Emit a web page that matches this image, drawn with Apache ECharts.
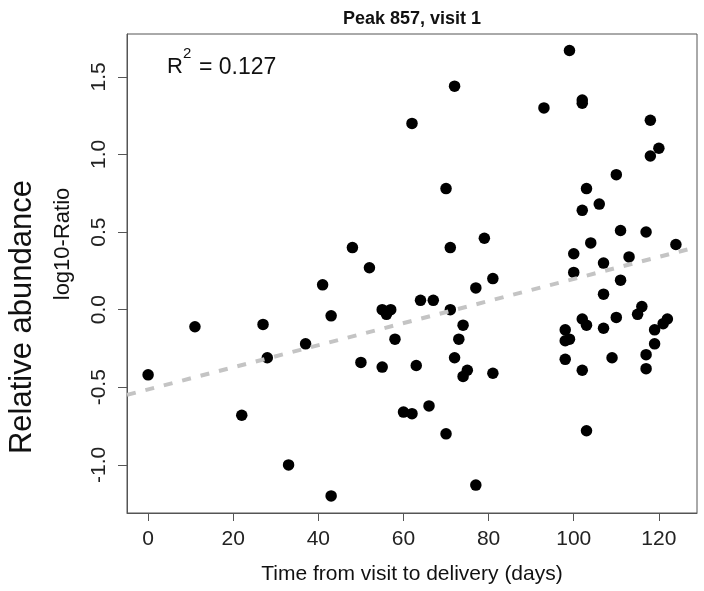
<!DOCTYPE html>
<html><head><meta charset="utf-8">
<script src="https://cdn.jsdelivr.net/npm/echarts@6/dist/echarts.min.js"></script>
<style>html,body{margin:0;padding:0;background:#fff}#c{width:704px;height:591px}</style>
</head><body><div id="c"></div>
<script>
// Days from visit to delivery
const days = [0, 11, 22, 27, 28, 33, 37, 41, 43, 43,
  48, 50, 52, 55, 56, 57, 55, 58, 60, 62,
  62, 63, 64, 66, 67, 70, 70, 71, 71, 72,
  72, 73, 74, 74, 75, 77, 77, 79, 81, 81,
  93, 98, 98, 98, 99, 99, 100, 100, 102, 102,
  102, 102, 102, 103, 103, 103, 104, 106, 107, 107,
  107, 109, 110, 110, 111, 111, 113, 115, 116, 117,
  117, 117, 118, 118, 119, 119, 120, 121, 122, 124];
// log10-Ratio values
const log10Ratio = [-0.42, -0.11, -0.68, -0.095, -0.31, -1.0, -0.22, 0.16, -0.04, -1.2,
  0.40, -0.34, 0.27, 0.0, -0.03, 0.0, -0.37, -0.19, -0.66, -0.67,
  1.20, -0.36, 0.06, -0.62, 0.06, 0.78, -0.80, 0.40, 0.0, 1.44,
  -0.31, -0.19, -0.10, -0.43, -0.39, 0.14, -1.13, 0.46, 0.20, -0.41,
  1.30, -0.13, -0.20, -0.32, 1.67, -0.19, 0.36, 0.24, 1.35, 1.33,
  0.64, -0.06, -0.39, 0.78, -0.10, -0.78, 0.43, 0.68, 0.30, 0.10,
  -0.12, -0.31, 0.87, -0.05, 0.51, 0.19, 0.34, -0.03, 0.02, 0.50,
  -0.29, -0.38, 1.22, 0.99, -0.13, -0.22, 1.04, -0.09, -0.06, 0.42];
// Fitted trend line end points (as drawn)
const trendDays = [-4.96, 128.96];
const trendValues = [-0.549, 0.404];
const xTicks = [0, 20, 40, 60, 80, 100, 120];
const yTicks = [-1.0, -0.5, 0.0, 0.5, 1.0, 1.5];
const chartTitle = 'Peak 857, visit 1';
const rSquared = '0.127';
const xTitle = 'Time from visit to delivery (days)';
const yTitle = 'log10-Ratio';
const outerYTitle = 'Relative abundance';

const FONT = 'Liberation Sans, Arial, Helvetica, sans-serif';
const points = days.map((d, i) => [d, log10Ratio[i]]);
const trend = trendDays.map((d, i) => [d, trendValues[i]]);

const chart = echarts.init(document.getElementById('c'), null, {renderer: 'canvas'});
chart.setOption({
  backgroundColor: '#ffffff',
  animation: false,
  title: {
    text: chartTitle, left: 407, top: 5, textAlign: 'center',
    textStyle: {fontFamily: FONT, fontSize: 18, fontWeight: 'bold', color: '#111'}
  },
  grid: {left: 127, right: 7, top: 34, bottom: 78, show: true,
    borderColor: '#555', borderWidth: 1, backgroundColor: 'transparent'},
  xAxis: {
    type: 'value', min: -4.96, max: 128.96,
    name: xTitle, nameLocation: 'middle', nameGap: 51,
    nameTextStyle: {fontFamily: FONT, fontSize: 21, color: '#111'},
    axisLine: {show: true, onZero: false, lineStyle: {color: '#555', width: 1}},
    splitLine: {show: false},
    axisTick: {show: true, length: 8, lineStyle: {color: '#555'}, customValues: xTicks},
    axisLabel: {fontFamily: FONT, fontSize: 21, color: '#222', margin: 16, customValues: xTicks,
      formatter: v => String(v)}
  },
  yAxis: {
    type: 'value', min: -1.31, max: 1.776,
    axisLine: {show: true, onZero: false, lineStyle: {color: '#555', width: 1}},
    splitLine: {show: false},
    axisTick: {show: true, length: 9, lineStyle: {color: '#555'}, customValues: yTicks},
    axisLabel: {fontFamily: FONT, fontSize: 21, color: '#222', margin: 17, rotate: 90,
      customValues: yTicks, formatter: v => Number(v).toFixed(1)}
  },
  graphic: [
    {type: 'text', left: 167, top: 56, z: 10,
      style: {text: 'R', fontFamily: FONT, fontSize: 22, fill: '#111'}},
    {type: 'text', left: 183, top: 46, z: 10,
      style: {text: '2', fontFamily: FONT, fontSize: 15, fill: '#111'}},
    {type: 'text', left: 199, top: 56, z: 10,
      style: {text: '= ' + rSquared, fontFamily: FONT, fontSize: 23, fill: '#111'}},
    {type: 'text', x: 63, y: 244, rotation: Math.PI / 2, z: 10,
      style: {text: yTitle, fontFamily: FONT, fontSize: 22, fill: '#111', align: 'center', verticalAlign: 'middle'}},
    {type: 'text', x: 22, y: 317, rotation: Math.PI / 2, z: 10,
      style: {text: outerYTitle, fontFamily: FONT, fontSize: 31, fill: '#111', align: 'center', verticalAlign: 'middle'}}
  ],
  series: [
    {type: 'scatter', data: points, symbol: 'circle', symbolSize: 11.5,
      itemStyle: {color: '#000', opacity: 1}, z: 2},
    {type: 'line', data: trend, symbol: 'none', silent: true, z: 3,
      lineStyle: {color: '#c4c4c4', width: 4, type: [9, 10], cap: 'butt'}}
  ]
});
</script>
</body></html>
